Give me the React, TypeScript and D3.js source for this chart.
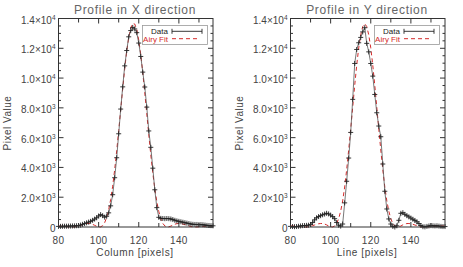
import React, { useRef, useEffect } from 'react';
import * as d3 from 'd3';

// pixel positions along the profile
const pixels = d3.range(80, 158);

// measured profile in X direction
const profileX = [
  40, 45, 50, 55, 55, 60, 65, 70, 75, 85,
  90, 130, 180, 230, 280, 330, 380, 450, 530, 620,
  740, 830, 760, 660, 720, 950, 1420, 2170, 3310, 4650,
  6260, 7920, 9410, 10820, 11850, 12770, 13190, 13400, 13300, 13050,
  12350, 11450, 10400, 9400, 8050, 6450, 5350, 3950, 2500, 1300,
  650, 580, 570, 560, 570, 560, 540, 500, 450, 410,
  380, 350, 320, 290, 260, 230, 200, 180, 170, 170,
  160, 160, 150, 130, 110, 100, 90, 80,
];

// airy fit in X direction
const fitX = [
  69, 60, 48, 36, 22, 11, 2, 1, 14, 38,
  75, 119, 165, 206, 232, 237, 219, 178, 114, 48,
  8, 8, 90, 290, 630, 1150, 1850, 2740, 3850, 5110,
  6470, 7880, 9290, 10630, 11810, 12710, 13360, 13670, 13630, 13250,
  12540, 11580, 10370, 9010, 7600, 6190, 4850, 3620, 2550, 1700,
  1030, 550, 240, 70, 3, 14, 59, 125, 188, 225,
  237, 226, 199, 158, 111, 67, 31, 11, 0, 3,
  14, 25, 38, 51, 63, 70, 73, 73,
];

// measured profile in Y direction
const profileY = [
  40, 30, 20, 30, 50, 70, 90, 100, 110, 120,
  170, 300, 480, 620, 700, 760, 820, 870, 920, 880,
  800, 700, 560, 300, 120, 60, 200, 1620, 3070, 4630,
  6350, 8570, 10980, 11920, 12370, 12730, 13100, 13380, 12330, 11760,
  10980, 10130, 8900, 7670, 6780, 6060, 4230, 2400, 1210, 540,
  200, 40, 0, 80, 450, 920, 960, 850, 760, 680,
  600, 520, 440, 350, 230, 100, 20, 10, 40, 70,
  90, 80, 70, 80, 60, 40, 30, 30,
];

// airy fit in Y direction
const fitY = [
  72, 68, 60, 48, 36, 22, 10, 1, 3, 18,
  46, 86, 134, 179, 218, 236, 232, 198, 143, 66,
  18, 2, 66, 235, 560, 1060, 1750, 2690, 3850, 5170,
  6580, 8040, 9510, 10870, 12030, 12900, 13460, 13650, 13460, 12900,
  12030, 10870, 9510, 8040, 6580, 5170, 3850, 2690, 1750, 1060,
  560, 235, 66, 2, 18, 66, 143, 198, 232, 236,
  218, 179, 134, 86, 46, 18, 3, 1, 10, 22,
  36, 48, 60, 68, 72, 72, 68, 61,
];

const yTicks = [0, 2000, 4000, 6000, 8000, 10000, 12000, 14000];
const yTickLabels = [['0', ''], ['2.0×10', '3'], ['4.0×10', '3'], ['6.0×10', '3'], ['8.0×10', '3'], ['1.0×10', '4'], ['1.2×10', '4'], ['1.4×10', '4']];
const xTicks = [80, 100, 120, 140];
const titles = ['Profile in X direction', 'Profile in Y direction'];
const xLabels = ['Column [pixels]', 'Line [pixels]'];

const FONT = "'Liberation Sans', Arial, sans-serif";

const App = () => {
  const ref = useRef<SVGSVGElement>(null);

  useEffect(() => {
    const svg = d3.select(ref.current);
    svg.selectAll('*').remove();

    const panels = [
      { data: profileX, fit: fitX },
      { data: profileY, fit: fitY },
    ];

    panels.forEach((p, i) => {
      const off = i * 232;
      const x = d3.scaleLinear().domain([80, 157]).range([58.5 + off, 213 + off]);
      const y = d3.scaleLinear().domain([0, 14000]).range([227, 18.5]);
      const g = svg.append('g');

      // fit curve (red dashed)
      const line = d3.line<number>().x((_, j) => x(pixels[j])).y(d => y(d));
      g.append('path')
        .attr('d', line(p.fit))
        .attr('fill', 'none')
        .attr('stroke', '#d42a2a')
        .attr('stroke-width', 1)
        .attr('stroke-dasharray', '4,3');

      // data line + markers
      g.append('path')
        .attr('d', line(p.data))
        .attr('fill', 'none')
        .attr('stroke', '#555')
        .attr('stroke-width', 0.8);
      p.data.forEach((d, j) => {
        const cx = x(pixels[j]);
        const cy = y(d);
        g.append('path')
          .attr('d', `M${cx - 2.5},${cy}H${cx + 2.5}M${cx},${cy - 2.5}V${cy + 2.5}`)
          .attr('stroke', '#222')
          .attr('stroke-width', 0.9);
      });

      // axis box
      const [x0, x1] = x.range();
      const [y0, y1] = y.range();
      g.append('rect')
        .attr('x', x0).attr('y', y1)
        .attr('width', x1 - x0).attr('height', y0 - y1)
        .attr('fill', 'none').attr('stroke', '#333').attr('stroke-width', 1);

      // y ticks, both sides
      d3.range(0, 14001, 500).forEach(v => {
        const len = v % 2000 === 0 ? 5 : 2.5;
        const yy = y(v);
        g.append('line').attr('x1', x0).attr('x2', x0 + len).attr('y1', yy).attr('y2', yy).attr('stroke', '#333');
        g.append('line').attr('x1', x1).attr('x2', x1 - len).attr('y1', yy).attr('y2', yy).attr('stroke', '#333');
      });
      // x ticks, top and bottom
      d3.range(90, 157, 10).forEach(v => {
        const len = v % 20 === 0 ? 5 : 4;
        const xx = x(v);
        g.append('line').attr('x1', xx).attr('x2', xx).attr('y1', y0).attr('y2', y0 - len).attr('stroke', '#333');
        g.append('line').attr('x1', xx).attr('x2', xx).attr('y1', y1).attr('y2', y1 + len).attr('stroke', '#333');
      });

      // y tick labels
      yTicks.forEach((v, k) => {
        const t = g.append('text')
          .attr('x', x0 - 3)
          .attr('y', y(v) + 5)
          .attr('text-anchor', 'end')
          .attr('font-family', FONT)
          .attr('font-size', 10)
          .attr('fill', '#444');
        t.append('tspan').text(yTickLabels[k][0]);
        if (yTickLabels[k][1]) {
          t.append('tspan').attr('dy', -4).attr('font-size', 6.5).text(yTickLabels[k][1]);
        }
      });

      // x tick labels
      xTicks.forEach(v => {
        g.append('text')
          .attr('x', x(v))
          .attr('y', 244)
          .attr('text-anchor', 'middle')
          .attr('font-family', FONT)
          .attr('font-size', 10)
          .attr('letter-spacing', 0.4)
          .attr('fill', '#444')
          .text(v);
      });

      // titles
      g.append('text')
        .attr('x', 135 + off).attr('y', 13.5)
        .attr('text-anchor', 'middle')
        .attr('font-family', FONT).attr('font-size', 12)
        .attr('letter-spacing', 0.7)
        .attr('fill', '#666')
        .text(titles[i]);
      g.append('text')
        .attr('x', 135 + off).attr('y', 256)
        .attr('text-anchor', 'middle')
        .attr('font-family', FONT).attr('font-size', 10)
        .attr('letter-spacing', 0.6)
        .attr('fill', '#444')
        .text(xLabels[i]);
      g.append('text')
        .attr('transform', `translate(${11 + off},123) rotate(-90)`)
        .attr('text-anchor', 'middle')
        .attr('font-family', FONT).attr('font-size', 10)
        .attr('letter-spacing', 0.5)
        .attr('fill', '#444')
        .text('Pixel Value');

      // legend
      const lg = g.append('g');
      lg.append('rect')
        .attr('x', 142.5 + off).attr('y', 25.5)
        .attr('width', 65).attr('height', 19)
        .attr('fill', 'white').attr('stroke', '#999').attr('stroke-width', 0.8);
      lg.append('text')
        .attr('x', 168 + off).attr('y', 34)
        .attr('text-anchor', 'end')
        .attr('font-family', FONT).attr('font-size', 8)
        .attr('fill', '#222')
        .text('Data');
      lg.append('path')
        .attr('d', `M${172 + off},31.3H${202 + off}M${172 + off},28.8V33.8M${202 + off},28.8V33.8`)
        .attr('stroke', '#222').attr('stroke-width', 0.9);
      lg.append('text')
        .attr('x', 168 + off).attr('y', 41.5)
        .attr('text-anchor', 'end')
        .attr('font-family', FONT).attr('font-size', 8)
        .attr('fill', '#d42a2a')
        .text('Airy Fit');
      lg.append('line')
        .attr('x1', 172 + off).attr('x2', 198 + off)
        .attr('y1', 38.7).attr('y2', 38.7)
        .attr('stroke', '#d42a2a').attr('stroke-dasharray', '4,3');
    });
  }, []);

  return (
    <svg ref={ref} width={463} height={267}
      style={{ position: 'absolute', left: 0, top: 0, background: 'white' }} />
  );
};

export default App;
